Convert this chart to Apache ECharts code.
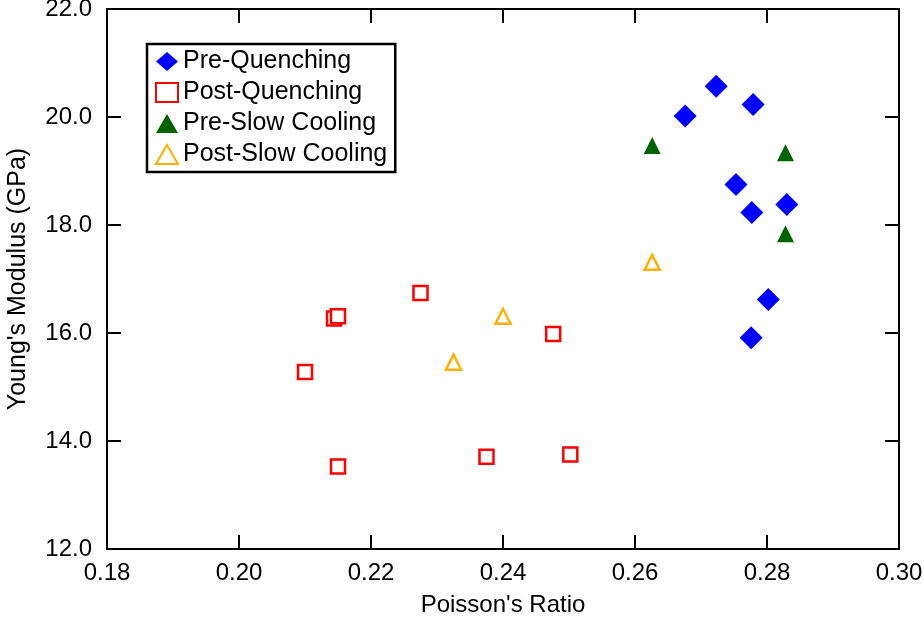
<!DOCTYPE html>
<html><head><meta charset="utf-8">
<script src="https://cdn.jsdelivr.net/npm/echarts@6/dist/echarts.min.js"></script>
<style>html,body{margin:0;padding:0;background:#fff}#c{width:924px;height:618px}</style>
</head><body><div id="c"></div>
<script>
var seriesNames = ['Pre-Quenching', 'Post-Quenching', 'Pre-Slow Cooling', 'Post-Slow Cooling'];
var preQuenchX = [0.2723, 0.2676, 0.2779, 0.2753, 0.2777, 0.2830, 0.2802, 0.2776];
var preQuenchY = [20.57, 20.02, 20.23, 18.75, 18.23, 18.38, 16.62, 15.91];
var postQuenchX = [0.2275, 0.2144, 0.2150, 0.2100, 0.2476, 0.2150, 0.2375, 0.2502];
var postQuenchY = [16.74, 16.27, 16.31, 15.28, 15.98, 13.53, 13.71, 13.75];
var preSlowX = [0.2626, 0.2828, 0.2828];
var preSlowY = [19.47, 19.34, 17.84];
var postSlowX = [0.2626, 0.2400, 0.2325];
var postSlowY = [17.31, 16.31, 15.46];
var xTicks = [0.18, 0.20, 0.22, 0.24, 0.26, 0.28, 0.30];
var yTicks = [12.0, 14.0, 16.0, 18.0, 20.0, 22.0];

function pairs(xs, ys) { return xs.map(function (x, i) { return [x, ys[i]]; }); }

var FONT = 'Liberation Sans';
var chart = echarts.init(document.getElementById('c'));
var axisLine = { show: true, lineStyle: { color: '#000', width: 2 } };
var axisTick = { show: true, inside: true, length: 14, lineStyle: { color: '#000', width: 2 } };
var xMin = xTicks[0], xMax = xTicks[xTicks.length - 1];
var yMin = yTicks[0], yMax = yTicks[yTicks.length - 1];
var xInt = 0.02, yInt = 2;

chart.setOption({
  animation: false,
  backgroundColor: '#fff',
  grid: { left: 107, top: 9, right: 25, bottom: 69, containLabel: false, outerBoundsMode: 'none' },
  legend: {
    orient: 'vertical', left: 147, top: 44,
    data: seriesNames,
    borderColor: '#000', borderWidth: 2.5,
    padding: [5, 8, 5, 8],
    itemGap: 6, itemWidth: 22, itemHeight: 19,
    backgroundColor: '#fff',
    textStyle: { fontFamily: FONT, fontSize: 25, color: '#000' }
  },
  xAxis: [{
    type: 'value', min: xMin, max: xMax, interval: xInt, position: 'bottom',
    name: "Poisson's Ratio", nameLocation: 'middle', nameGap: 44,
    nameTextStyle: { fontFamily: FONT, fontSize: 24, color: '#000' },
    axisLine: axisLine, axisTick: axisTick, splitLine: { show: false },
    axisLabel: { fontFamily: FONT, fontSize: 24, color: '#000', margin: 12,
      formatter: function (v) { return v.toFixed(2); } }
  }, {
    type: 'value', min: xMin, max: xMax, interval: xInt, position: 'top',
    axisLine: axisLine, axisTick: axisTick, splitLine: { show: false }, axisLabel: { show: false }
  }],
  yAxis: [{
    type: 'value', min: yMin, max: yMax, interval: yInt, position: 'left',
    name: "Young's Modulus (GPa)", nameLocation: 'middle', nameGap: 76,
    nameTextStyle: { fontFamily: FONT, fontSize: 25, color: '#000' },
    axisLine: axisLine, axisTick: axisTick, splitLine: { show: false },
    axisLabel: { fontFamily: FONT, fontSize: 24, color: '#000', margin: 15,
      formatter: function (v) { return v.toFixed(1); } }
  }, {
    type: 'value', min: yMin, max: yMax, interval: yInt, position: 'right',
    axisLine: axisLine, axisTick: axisTick, splitLine: { show: false }, axisLabel: { show: false }
  }],
  series: [{
    name: seriesNames[0], type: 'scatter', symbol: 'diamond', symbolSize: 23,
    itemStyle: { color: '#0000ff', opacity: 1 }, data: pairs(preQuenchX, preQuenchY)
  }, {
    name: seriesNames[1], type: 'scatter', symbol: 'rect', symbolSize: 14,
    itemStyle: { color: '#fff', borderColor: '#ff0000', borderWidth: 2.5, opacity: 1 },
    data: pairs(postQuenchX, postQuenchY)
  }, {
    name: seriesNames[2], type: 'scatter', symbol: 'triangle', symbolSize: 17,
    itemStyle: { color: '#006400', opacity: 1 }, data: pairs(preSlowX, preSlowY)
  }, {
    name: seriesNames[3], type: 'scatter', symbol: 'triangle', symbolSize: 15,
    itemStyle: { color: '#fff', borderColor: '#ffb000', borderWidth: 2.5, opacity: 1 },
    data: pairs(postSlowX, postSlowY)
  }]
});
</script></body></html>
